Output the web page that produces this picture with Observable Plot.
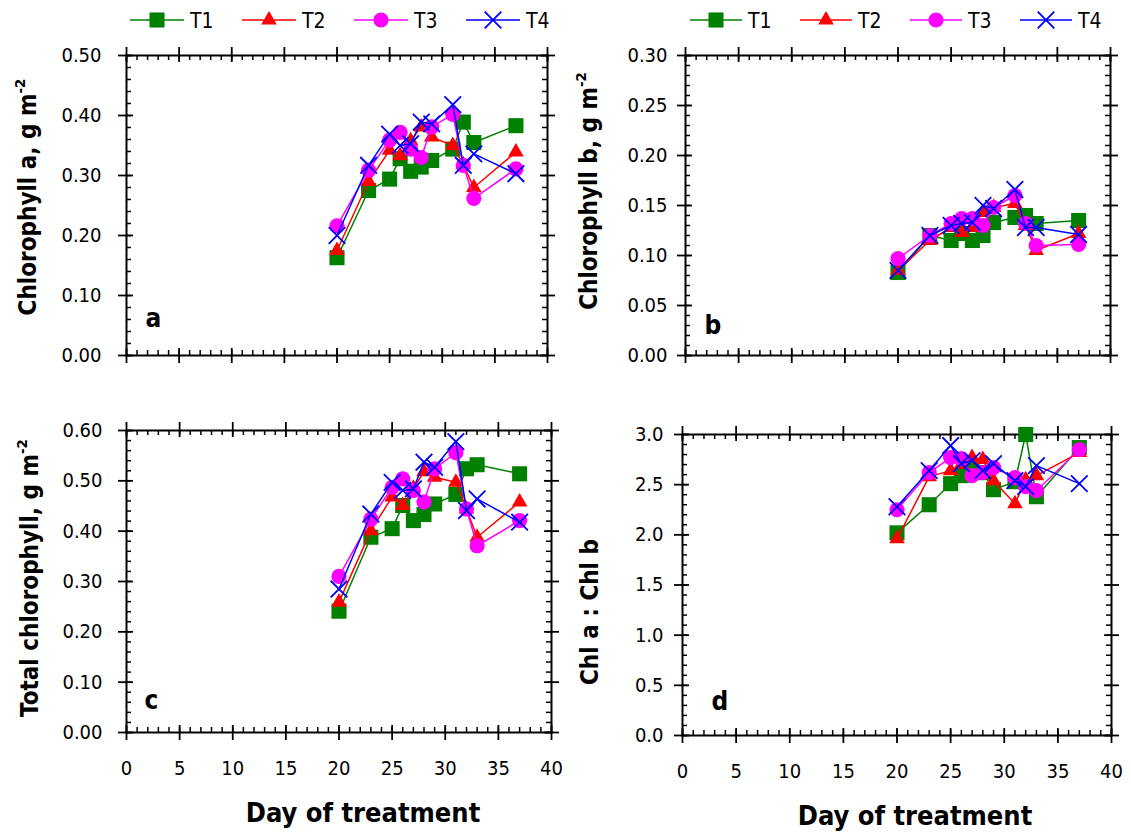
<!DOCTYPE html>
<html><head><meta charset="utf-8">
<script src="https://cdn.jsdelivr.net/npm/d3@7"></script>
<script src="https://cdn.jsdelivr.net/npm/@observablehq/plot@0.6"></script>
<style>
html,body{margin:0;padding:0;background:#fff;}
#root{position:relative;width:1131px;height:833px;overflow:hidden;font-family:'DejaVu Sans Condensed','DejaVu Sans',sans-serif;color:#000;}
#root svg{position:absolute;background:transparent;overflow:visible;}
.ttl{position:absolute;white-space:nowrap;font-weight:bold;font-size:24px;transform:translate(-50%,-50%) rotate(-90deg);}
.ttl sup{font-size:62%;vertical-align:0;position:relative;top:-0.75em;}
.xt{position:absolute;white-space:nowrap;font-weight:bold;font-size:27px;transform:translate(-50%,-50%);}
</style>
</head><body>
<div id="root"></div>
<script>
// ---------- data ----------
const days = [20, 23, 25, 26, 27, 28, 29, 31, 32, 33, 37];
const series = ["T1", "T2", "T3", "T4"];
const colors = ["#008000", "#ff0000", "#ff00ff", "#0000ff"];

// Chlorophyll a (g m-2)
const chlA_T1 = [0.163, 0.275, 0.294, 0.328, 0.307, 0.314, 0.325, 0.344, 0.389, 0.355, 0.383];
const chlA_T2 = [0.175, 0.290, 0.342, 0.333, 0.358, 0.381, 0.364, 0.350, 0.318, 0.280, 0.339];
const chlA_T3 = [0.216, 0.309, 0.359, 0.372, 0.344, 0.330, 0.381, 0.402, 0.317, 0.262, 0.311];
const chlA_T4 = [0.200, 0.317, 0.369, 0.350, 0.353, 0.389, 0.386, 0.418, 0.317, 0.336, 0.303];

// Chlorophyll b (g m-2)
const chlB_T1 = [0.083, 0.120, 0.115, 0.122, 0.115, 0.120, 0.133, 0.138, 0.140, 0.132, 0.135];
const chlB_T2 = [0.085, 0.115, 0.128, 0.123, 0.128, 0.143, 0.148, 0.152, 0.130, 0.105, 0.122];
const chlB_T3 = [0.097, 0.120, 0.132, 0.137, 0.137, 0.130, 0.148, 0.160, 0.132, 0.110, 0.111];
const chlB_T4 = [0.085, 0.120, 0.130, 0.132, 0.133, 0.150, 0.147, 0.166, 0.128, 0.128, 0.121];

// Total chlorophyll (g m-2)
const tot_T1 = [0.241, 0.388, 0.405, 0.451, 0.421, 0.433, 0.454, 0.473, 0.524, 0.532, 0.514];
const tot_T2 = [0.259, 0.401, 0.468, 0.451, 0.485, 0.518, 0.507, 0.497, 0.444, 0.388, 0.458];
const tot_T3 = [0.310, 0.424, 0.487, 0.504, 0.481, 0.458, 0.524, 0.556, 0.444, 0.371, 0.421];
const tot_T4 = [0.285, 0.434, 0.497, 0.481, 0.484, 0.537, 0.527, 0.578, 0.441, 0.464, 0.418];

// Chl a : Chl b
const ratio_T1 = [2.02, 2.30, 2.51, 2.59, 2.65, 2.62, 2.45, 2.53, 3.00, 2.38, 2.87];
const ratio_T2 = [1.96, 2.58, 2.64, 2.70, 2.77, 2.75, 2.54, 2.31, 2.55, 2.59, 2.82];
const ratio_T3 = [2.25, 2.62, 2.77, 2.76, 2.59, 2.62, 2.67, 2.57, 2.48, 2.44, 2.85];
const ratio_T4 = [2.28, 2.64, 2.89, 2.71, 2.74, 2.64, 2.71, 2.54, 2.48, 2.69, 2.51];

// ticks
const xMajor = [0, 5, 10, 15, 20, 25, 30, 35, 40];
const yMajorA = [0, 0.1, 0.2, 0.3, 0.4, 0.5];
const yMajorB = [0, 0.05, 0.1, 0.15, 0.2, 0.25, 0.3];
const yMajorC = [0, 0.1, 0.2, 0.3, 0.4, 0.5, 0.6];
const yMajorD = [0, 0.5, 1.0, 1.5, 2.0, 2.5, 3.0];

// ---------- drawing ----------
const root = document.getElementById("root");
const FONT = "'DejaVu Sans Condensed','DejaVu Sans',sans-serif";
const symbols = ["square", "triangle", "circle", "times"];
const symR = [8.5, 5.8, 7.6, 7.6];

function panel(cfg) {
  const {L, R, T, B, ymax, yMajor, yStep, fmt, gap, vals, letter, ldx, ldy, xLabels} = cfg;
  const mL = 115, mR = 20, mT = 20, mB = xLabels ? 60 : 20;
  const iw = R - L, ih = B - T;
  const xMinor = d3.range(0, 41, 1);
  const yMinor = d3.range(0, Math.round(ymax / yStep) + 1).map(i => +(i * yStep).toFixed(4));
  const marks = [
    Plot.tickY(yMinor, {y: d => d, insetRight: iw - 5, stroke: "black", strokeWidth: 1.5}),
    Plot.tickY(yMinor, {y: d => d, insetLeft: iw - 5, stroke: "black", strokeWidth: 1.5}),
    Plot.tickX(xMinor, {x: d => d, insetBottom: ih - 5, stroke: "black", strokeWidth: 1.5}),
    Plot.tickX(xMinor, {x: d => d, insetTop: ih - 5, stroke: "black", strokeWidth: 1.5}),
    Plot.tickY(yMajor, {y: d => d, insetLeft: -8, insetRight: iw - 7, stroke: "black", strokeWidth: 1.8}),
    Plot.tickY(yMajor, {y: d => d, insetLeft: iw - 7, insetRight: -8, stroke: "black", strokeWidth: 1.8}),
    Plot.tickX(xMajor, {x: d => d, insetTop: -8, insetBottom: ih - 7, stroke: "black", strokeWidth: 1.8}),
    Plot.tickX(xMajor, {x: d => d, insetTop: ih - 7, insetBottom: -8, stroke: "black", strokeWidth: 1.8}),
    Plot.frame({stroke: "black", strokeWidth: 2}),
    Plot.axisY(yMajor, {anchor: "left", label: null, tickSize: 0, tickPadding: gap, tickFormat: fmt, fontSize: 20})
  ];
  if (xLabels) marks.push(Plot.axisX(xMajor, {anchor: "bottom", label: null, tickSize: 0, tickPadding: 28, tickFormat: d3.format("d"), fontSize: 20}));
  series.forEach((s, i) => {
    const rows = days.map((d, j) => ({day: d, v: vals[i][j]}));
    marks.push(Plot.line(rows, {x: "day", y: "v", stroke: colors[i], strokeWidth: 1.5}));
    if (symbols[i] === "times") {
      marks.push(Plot.dot(rows, {x: "day", y: "v", symbol: "times", r: symR[i], stroke: colors[i], fill: "none", strokeWidth: 1.8}));
    } else {
      marks.push(Plot.dot(rows, {x: "day", y: "v", symbol: symbols[i], r: symR[i], fill: colors[i], stroke: "none"}));
    }
  });
  marks.push(Plot.text([letter], {text: d => d, frameAnchor: "bottom-left", textAnchor: "start", lineAnchor: "bottom", dx: ldx, dy: ldy, fontWeight: "bold", fontSize: 26}));
  const svg = Plot.plot({
    width: iw + mL + mR, height: ih + mT + mB,
    marginLeft: mL, marginRight: mR, marginTop: mT, marginBottom: mB,
    style: {fontFamily: FONT, fontSize: "20px", background: "transparent", overflow: "visible"},
    x: {domain: [0, 40], axis: null, label: null},
    y: {domain: [0, ymax], axis: null, label: null},
    marks
  });
  svg.style.left = (L - mL) + "px";
  svg.style.top = (T - mT) + "px";
  root.appendChild(svg);
}

const f2 = d3.format(".2f"), f1 = d3.format(".1f");
panel({L: 126, R: 547, T: 55, B: 355, ymax: 0.5, yMajor: yMajorA, yStep: 0.02, fmt: f2, gap: 25,
  vals: [chlA_T1, chlA_T2, chlA_T3, chlA_T4], letter: "a", ldx: 19, ldy: -29, xLabels: false});
panel({L: 685, R: 1110, T: 55, B: 355, ymax: 0.3, yMajor: yMajorB, yStep: 0.01, fmt: f2, gap: 18,
  vals: [chlB_T1, chlB_T2, chlB_T3, chlB_T4], letter: "b", ldx: 19, ldy: -22, xLabels: false});
panel({L: 126, R: 551, T: 430, B: 732, ymax: 0.6, yMajor: yMajorC, yStep: 0.02, fmt: f2, gap: 24,
  vals: [tot_T1, tot_T2, tot_T3, tot_T4], letter: "c", ldx: 18, ldy: -24, xLabels: true});
panel({L: 682, R: 1111, T: 434, B: 735, ymax: 3.0, yMajor: yMajorD, yStep: 0.1, fmt: f1, gap: 19,
  vals: [ratio_T1, ratio_T2, ratio_T3, ratio_T4], letter: "d", ldx: 29, ldy: -26, xLabels: true});

// ---------- legends ----------
const leg = d3.create("svg").attr("width", 1131).attr("height", 40).style("left", "0px").style("top", "0px");
const symTypes = [d3.symbolSquare, d3.symbolTriangle, d3.symbolCircle, d3.symbolTimes];
function legend(x0, step, len) {
  series.forEach((s, i) => {
    const x = x0 + i * step, y = 20;
    const g = leg.append("g");
    g.append("line").attr("x1", x).attr("x2", x + len).attr("y1", y).attr("y2", y)
      .attr("stroke", colors[i]).attr("stroke-width", 1.5);
    const p = d3.symbol(symTypes[i], symR[i] * symR[i] * Math.PI)();
    const sp = g.append("path").attr("d", p).attr("transform", `translate(${x + len / 2},${y})`);
    if (i === 3) sp.attr("fill", "none").attr("stroke", colors[i]).attr("stroke-width", 1.8);
    else sp.attr("fill", colors[i]);
    g.append("text").attr("x", x + len + 6).attr("y", y).attr("dy", "0.36em")
      .attr("font-family", FONT).attr("font-size", 21).attr("fill", "#000").text(s);
  });
}
legend(130, 112, 54);
legend(690, 110, 52);
root.appendChild(leg.node());

// ---------- titles ----------
function addDiv(cls, html, x, y) {
  const d = document.createElement("div");
  d.className = cls; d.innerHTML = html;
  d.style.left = x + "px"; d.style.top = y + "px";
  root.appendChild(d);
}
addDiv("ttl", "Chlorophyll a, g m<sup>-2</sup>", 28, 197);
addDiv("ttl", "Chlorophyll b, g m<sup>-2</sup>", 589, 191);
addDiv("ttl", "Total chlorophyll, g m<sup>-2</sup>", 30, 578);
addDiv("ttl", "Chl a : Chl b", 590, 612);
addDiv("xt", "Day of treatment", 363, 812);
addDiv("xt", "Day of treatment", 915, 815);
</script>
</body></html>
